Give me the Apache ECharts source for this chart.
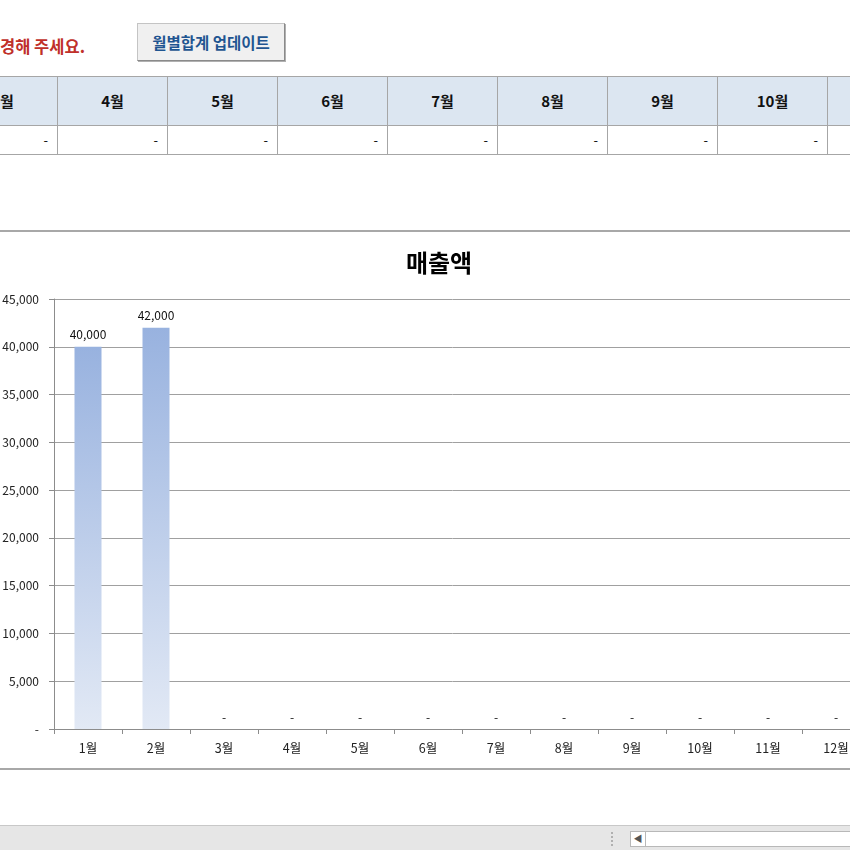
<!DOCTYPE html>
<html><head><meta charset="utf-8">
<script src="https://cdn.jsdelivr.net/npm/echarts@6/dist/echarts.min.js"></script>
<style>
html,body{margin:0;padding:0;width:850px;height:850px;overflow:hidden;background:#fff;font-family:'Noto Sans CJK KR','Noto Sans',sans-serif;}
#sheet{position:absolute;left:0;top:0;width:850px;height:850px;}
.cell{position:absolute;box-sizing:border-box;}
#chart{position:absolute;left:0;top:0;width:850px;height:850px;}
</style></head>
<body>
<div id="sheet"></div>
<div id="chart"></div>
<script>
// ---- data ----
const months = ['1월','2월','3월','4월','5월','6월','7월','8월','9월','10월','11월','12월'];
const sales = [40000, 42000, 0, 0, 0, 0, 0, 0, 0, 0, 0, 0];
const tableMonths = ['3월','4월','5월','6월','7월','8월','9월','10월','11월'];
const tableValues = [0, 0, 0, 0, 0, 0, 0, 0, 0];
const yMin = 0, yMax = 45000, yStep = 5000;
const chartTitle = '매출액';
const noticeText = '경해 주세요.';
const buttonText = '월별합계 업데이트';

// ---- spreadsheet surroundings ----
const sheet = document.getElementById('sheet');
function add(style, text){
  const d = document.createElement('div'); d.className='cell';
  Object.assign(d.style, style); if(text!==undefined) d.textContent=text; sheet.appendChild(d); return d;
}
add({left:'0px',top:'34px',height:'24px',lineHeight:'24px',color:'#c0302a',fontWeight:'bold',fontSize:'16.5px',whiteSpace:'nowrap'}, noticeText);
add({left:'137px',top:'23px',width:'148px',height:'38px',background:'#f0f0f0',border:'1px solid #c4c4c4',borderRightColor:'#8a8a8a',borderBottomColor:'#8a8a8a',boxShadow:'1px 1px 0 #b0b0b0',
     lineHeight:'36px',textAlign:'center',color:'#1f5591',fontWeight:'bold',fontSize:'15.5px',whiteSpace:'nowrap'}, buttonText);
tableMonths.forEach((m,i)=>{
  const x = -52 + 110*i;
  add({left:x+'px',top:'76px',width:'110px',height:'50px',background:'#dce6f1',borderTop:'1px solid #a6a6a6',borderBottom:'1px solid #a6a6a6',borderRight:'1px solid #a6a6a6',
       lineHeight:'48px',textAlign:'center',fontWeight:'bold',fontSize:'15px',color:'#111'}, m);
  add({left:x+'px',top:'126px',width:'110px',height:'29px',background:'#fff',borderBottom:'1px solid #a6a6a6',borderRight:'1px solid #a6a6a6',
       lineHeight:'28px',textAlign:'right',paddingRight:'9px',fontSize:'13px',color:'#111'}, tableValues[i]===0?'-':tableValues[i].toLocaleString('en-US'));
});
add({left:'0px',top:'230px',width:'850px',height:'2px',background:'#a8a8a8'});
add({left:'0px',top:'768px',width:'850px',height:'2px',background:'#a8a8a8'});
add({left:'0px',top:'825px',width:'850px',height:'25px',background:'#e6e6e6',borderTop:'1px solid #c8c8c8'});
add({left:'611px',top:'832px',width:'3px',height:'14px',borderLeft:'2px dotted #b0b0b0'});
add({left:'630px',top:'831px',width:'230px',height:'16px',background:'#fff',border:'1px solid #b8b8b8'});
add({left:'630px',top:'831px',width:'16px',height:'16px',border:'1px solid #b8b8b8',fontSize:'9px',lineHeight:'14px',textAlign:'center',color:'#555'}, '◀');

// ---- chart ----
const fmt = v => v===0 ? '-' : v.toLocaleString('en-US');
const chart = echarts.init(document.getElementById('chart'), null, {renderer:'canvas'});
chart.setOption({
  animation:false,
  backgroundColor:'transparent',
  title:{text:chartTitle,left:434,top:246,textAlign:'center',textStyle:{fontSize:24,fontWeight:'bold',color:'#000',fontFamily:'Noto Sans CJK KR'}},
  grid:{left:54,top:299,width:816,height:430,containLabel:false,outerBoundsMode:'none'},
  xAxis:{type:'category',data:months,boundaryGap:true,
    axisLine:{lineStyle:{color:'#8c8c8c',width:1}},
    axisTick:{show:true,length:5,inside:false,lineStyle:{color:'#8c8c8c'}},
    axisLabel:{fontSize:12.5,color:'#222',margin:13,fontFamily:'Noto Sans CJK KR'}},
  yAxis:{type:'value',min:yMin,max:yMax,interval:yStep,
    axisLine:{show:true,lineStyle:{color:'#8c8c8c'}},
    axisTick:{show:true,length:5,lineStyle:{color:'#8c8c8c'}},
    splitLine:{lineStyle:{color:'#a0a0a0',width:1}},
    axisLabel:{fontSize:12,color:'#222',margin:15,formatter:fmt,fontFamily:'Noto Sans CJK KR'}},
  series:[{type:'bar',data:sales,barWidth:27,
    itemStyle:{color:new echarts.graphic.LinearGradient(0,0,0,1,[{offset:0,color:'#98b2df'},{offset:1,color:'#e2e9f5'}])},
    label:{show:true,position:'top',distance:6,fontSize:12,color:'#111',formatter:p=>fmt(p.value),fontFamily:'Noto Sans CJK KR'}}]
});
</script>
</body></html>
